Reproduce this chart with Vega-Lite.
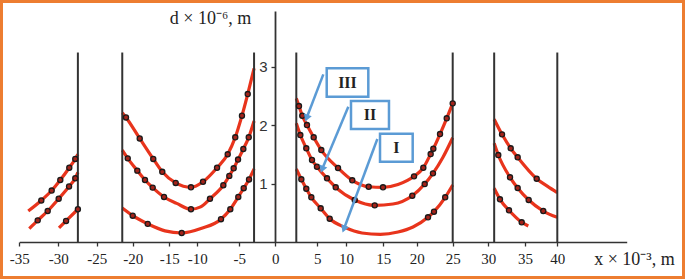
{
  "$schema": "https://vega.github.io/schema/vega-lite/v6.json",
  "width": 685,
  "height": 279,
  "padding": 0,
  "autosize": {"type": "none"},
  "background": "white",
  "config": {
    "view": {"stroke": "#ED7D31", "strokeWidth": 6},
    "axis": {"grid": false}
  },
  "datasets": {
    "curves": [
      {"s":"A3","x":-33.85,"y":0.53},{"s":"A3","x":-32.18,"y":0.71},{"s":"A3","x":-30.85,"y":0.88},{"s":"A3","x":-29.74,"y":1.06},{"s":"A3","x":-28.57,"y":1.27},{"s":"A3","x":-27.79,"y":1.42},{"s":"A3","x":-27.45,"y":1.5},
      {"s":"A2","x":-33.72,"y":0.23},{"s":"A2","x":-32.64,"y":0.37},{"s":"A2","x":-31.36,"y":0.53},{"s":"A2","x":-29.95,"y":0.74},{"s":"A2","x":-28.6,"y":0.95},{"s":"A2","x":-27.79,"y":1.09},{"s":"A2","x":-27.45,"y":1.19},
      {"s":"A1","x":-29.91,"y":0.24},{"s":"A1","x":-28.99,"y":0.36},{"s":"A1","x":-27.45,"y":0.56},
      {"s":"B3","x":-21.45,"y":2.21},{"s":"B3","x":-20.93,"y":2.13},{"s":"B3","x":-19.04,"y":1.77},{"s":"B3","x":-17.19,"y":1.42},{"s":"B3","x":-15.96,"y":1.2},{"s":"B3","x":-13.86,"y":1.01},{"s":"B3","x":-11.13,"y":0.935},{"s":"B3","x":-9.32,"y":1.03},{"s":"B3","x":-7.65,"y":1.27},{"s":"B3","x":-6.38,"y":1.5},{"s":"B3","x":-5.48,"y":1.79},{"s":"B3","x":-4.63,"y":2.16},{"s":"B3","x":-3.83,"y":2.53},{"s":"B3","x":-2.95,"y":2.97},
      {"s":"B2","x":-21.45,"y":1.57},{"s":"B2","x":-20.69,"y":1.43},{"s":"B2","x":-19.37,"y":1.22},{"s":"B2","x":-18.32,"y":1.06},{"s":"B2","x":-17.27,"y":0.93},{"s":"B2","x":-15.72,"y":0.77},{"s":"B2","x":-13.68,"y":0.66},{"s":"B2","x":-11.13,"y":0.56},{"s":"B2","x":-9.6,"y":0.6},{"s":"B2","x":-8.49,"y":0.74},{"s":"B2","x":-6.9,"y":0.97},{"s":"B2","x":-6.19,"y":1.13},{"s":"B2","x":-5.67,"y":1.26},{"s":"B2","x":-5.15,"y":1.41},{"s":"B2","x":-4.44,"y":1.59},{"s":"B2","x":-3.69,"y":1.79},{"s":"B2","x":-2.95,"y":2.07},
      {"s":"B1","x":-21.45,"y":0.58},{"s":"B1","x":-20.0,"y":0.45},{"s":"B1","x":-17.95,"y":0.31},{"s":"B1","x":-15.59,"y":0.19},{"s":"B1","x":-12.79,"y":0.154},{"s":"B1","x":-9.48,"y":0.234},{"s":"B1","x":-7.18,"y":0.39},{"s":"B1","x":-6.07,"y":0.56},{"s":"B1","x":-5.12,"y":0.77},{"s":"B1","x":-4.39,"y":0.92},{"s":"B1","x":-3.65,"y":1.07},{"s":"B1","x":-2.95,"y":1.25},
      {"s":"C3","x":2.5,"y":2.456},{"s":"C3","x":2.82,"y":2.325},{"s":"C3","x":3.21,"y":2.159},{"s":"C3","x":3.77,"y":2.0},{"s":"C3","x":4.57,"y":1.79},{"s":"C3","x":5.7,"y":1.572},{"s":"C3","x":8.61,"y":1.265},{"s":"C3","x":10.84,"y":1.055},{"s":"C3","x":13.04,"y":0.945},{"s":"C3","x":14.96,"y":0.935},{"s":"C3","x":17.2,"y":0.983},{"s":"C3","x":19.6,"y":1.123},{"s":"C3","x":20.92,"y":1.27},{"s":"C3","x":21.94,"y":1.504},{"s":"C3","x":22.31,"y":1.595},{"s":"C3","x":23.24,"y":1.846},{"s":"C3","x":24.17,"y":2.115},{"s":"C3","x":25.0,"y":2.371},
      {"s":"C2","x":2.5,"y":2.029},{"s":"C2","x":2.98,"y":1.829},{"s":"C2","x":3.69,"y":1.602},{"s":"C2","x":4.37,"y":1.402},{"s":"C2","x":4.96,"y":1.287},{"s":"C2","x":6.69,"y":1.089},{"s":"C2","x":8.21,"y":0.935},{"s":"C2","x":11.17,"y":0.718},{"s":"C2","x":13.85,"y":0.627},{"s":"C2","x":16.45,"y":0.65},{"s":"C2","x":19.34,"y":0.791},{"s":"C2","x":21.11,"y":0.991},{"s":"C2","x":22.26,"y":1.174},{"s":"C2","x":23.65,"y":1.45},{"s":"C2","x":25.0,"y":1.783},
      {"s":"C1","x":2.5,"y":1.248},{"s":"C1","x":3.1,"y":1.072},{"s":"C1","x":3.69,"y":0.911},{"s":"C1","x":4.29,"y":0.764},{"s":"C1","x":5.59,"y":0.576},{"s":"C1","x":7.16,"y":0.398},{"s":"C1","x":9.77,"y":0.251},{"s":"C1","x":12.14,"y":0.154},{"s":"C1","x":14.6,"y":0.132},{"s":"C1","x":17.2,"y":0.171},{"s":"C1","x":19.45,"y":0.256},{"s":"C1","x":21.57,"y":0.422},{"s":"C1","x":22.4,"y":0.518},{"s":"C1","x":23.96,"y":0.764},{"s":"C1","x":25.0,"y":0.974},
      {"s":"D3","x":30.8,"y":2.1},{"s":"D3","x":31.87,"y":1.841},{"s":"D3","x":33.05,"y":1.602},{"s":"D3","x":34.0,"y":1.448},{"s":"D3","x":36.81,"y":1.082},{"s":"D3","x":38.5,"y":0.95},{"s":"D3","x":40.0,"y":0.843},
      {"s":"D2","x":30.8,"y":1.687},{"s":"D2","x":31.36,"y":1.487},{"s":"D2","x":32.96,"y":1.106},{"s":"D2","x":34.0,"y":0.923},{"s":"D2","x":35.57,"y":0.718},{"s":"D2","x":37.83,"y":0.53},{"s":"D2","x":40.0,"y":0.422},
      {"s":"D1","x":30.8,"y":0.918},{"s":"D1","x":31.59,"y":0.73},{"s":"D1","x":32.82,"y":0.542},{"s":"D1","x":34.55,"y":0.337},{"s":"D1","x":35.51,"y":0.274}
    ],
    "markers": [
      {"x":-32.18,"y":0.71},{"x":-30.85,"y":0.88},{"x":-29.74,"y":1.06},{"x":-28.57,"y":1.27},{"x":-27.79,"y":1.42},
      {"x":-32.64,"y":0.37},{"x":-31.36,"y":0.53},{"x":-29.95,"y":0.74},{"x":-28.6,"y":0.95},{"x":-27.79,"y":1.09},
      {"x":-28.99,"y":0.36},{"x":-27.45,"y":0.56},
      {"x":-20.93,"y":2.13},{"x":-19.04,"y":1.77},{"x":-17.19,"y":1.42},{"x":-15.96,"y":1.2},{"x":-13.86,"y":1.01},{"x":-11.13,"y":0.935},{"x":-9.32,"y":1.03},{"x":-7.65,"y":1.27},{"x":-6.38,"y":1.5},{"x":-5.48,"y":1.79},{"x":-4.63,"y":2.16},{"x":-3.83,"y":2.53},
      {"x":-20.69,"y":1.43},{"x":-19.37,"y":1.22},{"x":-18.32,"y":1.06},{"x":-17.27,"y":0.93},{"x":-15.72,"y":0.77},{"x":-11.13,"y":0.56},{"x":-8.49,"y":0.74},{"x":-6.9,"y":0.97},{"x":-6.19,"y":1.13},{"x":-5.67,"y":1.26},{"x":-5.15,"y":1.41},{"x":-4.44,"y":1.59},{"x":-3.69,"y":1.79},
      {"x":-20.0,"y":0.45},{"x":-17.95,"y":0.31},{"x":-12.79,"y":0.154},{"x":-7.18,"y":0.39},{"x":-6.07,"y":0.56},{"x":-5.12,"y":0.77},{"x":-4.39,"y":0.92},{"x":-3.65,"y":1.07},
      {"x":2.82,"y":2.325},{"x":3.21,"y":2.159},{"x":3.77,"y":2.0},{"x":4.57,"y":1.79},{"x":5.7,"y":1.572},{"x":8.61,"y":1.265},{"x":10.84,"y":1.055},{"x":13.04,"y":0.945},{"x":14.96,"y":0.935},{"x":19.6,"y":1.123},{"x":20.92,"y":1.27},{"x":21.94,"y":1.504},{"x":22.31,"y":1.595},{"x":23.24,"y":1.846},{"x":24.17,"y":2.115},{"x":25.0,"y":2.371},
      {"x":2.98,"y":1.829},{"x":3.69,"y":1.602},{"x":4.37,"y":1.402},{"x":4.96,"y":1.287},{"x":6.69,"y":1.089},{"x":8.21,"y":0.935},{"x":11.17,"y":0.718},{"x":13.85,"y":0.627},{"x":19.34,"y":0.791},{"x":21.11,"y":0.991},{"x":22.26,"y":1.174},
      {"x":3.1,"y":1.072},{"x":3.69,"y":0.911},{"x":4.29,"y":0.764},{"x":5.59,"y":0.576},{"x":7.16,"y":0.398},{"x":21.57,"y":0.422},{"x":22.4,"y":0.518},{"x":23.96,"y":0.764},
      {"x":31.87,"y":1.841},{"x":33.05,"y":1.602},{"x":34.0,"y":1.448},{"x":36.81,"y":1.082},
      {"x":31.36,"y":1.487},{"x":32.96,"y":1.106},{"x":34.0,"y":0.923},{"x":35.57,"y":0.718},{"x":37.83,"y":0.53},
      {"x":31.59,"y":0.73},{"x":32.82,"y":0.542},{"x":34.55,"y":0.337}
    ],
    "walls": [{"x":-27.45},{"x":-21.45},{"x":-2.95},{"x":2.5},{"x":25.0},{"x":30.8},{"x":40.0}],
    "arrows": [
      {"label":"III","x":3.77,"y":2.137,"x2":6.05,"y2":2.867},
      {"label":"II","x":5.91,"y":1.26,"x2":10.31,"y2":2.313},
      {"label":"I","x":9.7,"y":0.239,"x2":14.2,"y2":1.761}
    ],
    "boxes": [
      {"label":"III","x":6.64,"y":2.969,"x2":12.99,"y2":2.484},
      {"label":"II","x":10.67,"y":2.41,"x2":15.85,"y2":1.932},
      {"label":"I","x":14.56,"y":1.851,"x2":19.4,"y2":1.373}
    ],
    "labels": [
      {"label":"III","x":10.2,"y":2.726},
      {"label":"II","x":13.22,"y":2.171},
      {"label":"I","x":16.95,"y":1.612}
    ]
  },
  "encoding": {
    "x": {
      "field": "x", "type": "quantitative",
      "scale": {
        "domain": [-35,-30,-25,-20,-15,-10,-5,0,5,10,15,20,25,30,35,40,50],
        "range": [19.3,58.3,96.7,132.7,169.3,197.3,239.3,275.3,317.3,346,383.3,416.7,452.7,488.3,525,557.3,626.7],
        "nice": false, "zero": false
      },
      "axis": {
        "title": "x × 10⁻³, m",
        "values": [-35,-30,-25,-20,-15,-10,-5,0,5,10,15,20,25,30,35,40],
        "labelExpr": "'' + datum.value",
        "offset": -37,
        "domainColor": "#333", "domainWidth": 1.6,
        "tickColor": "#333", "tickSize": 4, "tickWidth": 1.3,
        "labelFont": "Liberation Serif", "labelFontSize": 15, "labelColor": "#222",
        "labelPadding": 5, "labelFlush": false, "labelOverlap": false,
        "titleFont": "Liberation Serif", "titleFontSize": 18, "titleFontWeight": "normal", "titleColor": "#222",
        "titleAngle": 0, "titleAlign": "center", "titleBaseline": "middle",
        "titleX": 634, "titleY": 17
      }
    }
  },
  "layer": [
    {
      "data": {"name": "curves"},
      "mark": {"type": "line", "color": "#E8341C", "strokeWidth": 3.2, "interpolate": "monotone"},
      "encoding": {
        "y": {
          "field": "y", "type": "quantitative",
          "scale": {"domain": [0, 3.95], "range": [242, 11], "nice": false, "zero": false},
          "axis": {
            "title": "d × 10⁻⁶, m",
            "values": [1, 2, 3],
            "labelExpr": "'' + datum.value",
            "offset": -275,
            "domainColor": "#333", "domainWidth": 1.8,
            "tickColor": "#333", "tickSize": 4, "tickWidth": 1.3,
            "labelFont": "Liberation Sans", "labelFontSize": 15, "labelColor": "#333",
            "labelPadding": 4,
            "titleFont": "Liberation Serif", "titleFontSize": 18, "titleFontWeight": "normal", "titleColor": "#222",
            "titleAngle": 0, "titleAlign": "center", "titleBaseline": "middle",
            "titleX": -65, "titleY": 18
          }
        },
        "detail": {"field": "s", "type": "nominal"}
      }
    },
    {
      "data": {"name": "walls"},
      "mark": {"type": "rule", "color": "#333", "strokeWidth": 2},
      "encoding": {"y": {"datum": 0, "type": "quantitative"}, "y2": {"datum": 3.24}}
    },
    {
      "data": {"name": "markers"},
      "mark": {"type": "point", "shape": "circle", "filled": true, "size": 26, "fill": "#A3231A", "stroke": "#1a1a1a", "strokeWidth": 1.3, "opacity": 1},
      "encoding": {"y": {"field": "y", "type": "quantitative"}}
    },
    {
      "data": {"name": "arrows"},
      "mark": {"type": "rule", "color": "#5B9BD5", "strokeWidth": 2.5},
      "encoding": {"y": {"field": "y", "type": "quantitative"}, "x2": {"field": "x2"}, "y2": {"field": "y2"}}
    },
    {
      "data": {"name": "arrows"},
      "mark": {"type": "point", "shape": "triangle", "filled": true, "size": 70, "color": "#5B9BD5", "angle": 201, "opacity": 1},
      "encoding": {"y": {"field": "y", "type": "quantitative"}}
    },
    {
      "data": {"name": "boxes"},
      "mark": {"type": "rect", "fill": "white", "stroke": "#5B9BD5", "strokeWidth": 2.5},
      "encoding": {"y": {"field": "y", "type": "quantitative"}, "x2": {"field": "x2"}, "y2": {"field": "y2"}}
    },
    {
      "data": {"name": "labels"},
      "mark": {"type": "text", "font": "Liberation Serif", "fontSize": 16, "fontWeight": "bold", "color": "#222", "align": "center", "baseline": "middle"},
      "encoding": {"y": {"field": "y", "type": "quantitative"}, "text": {"field": "label", "type": "nominal"}}
    }
  ]
}
